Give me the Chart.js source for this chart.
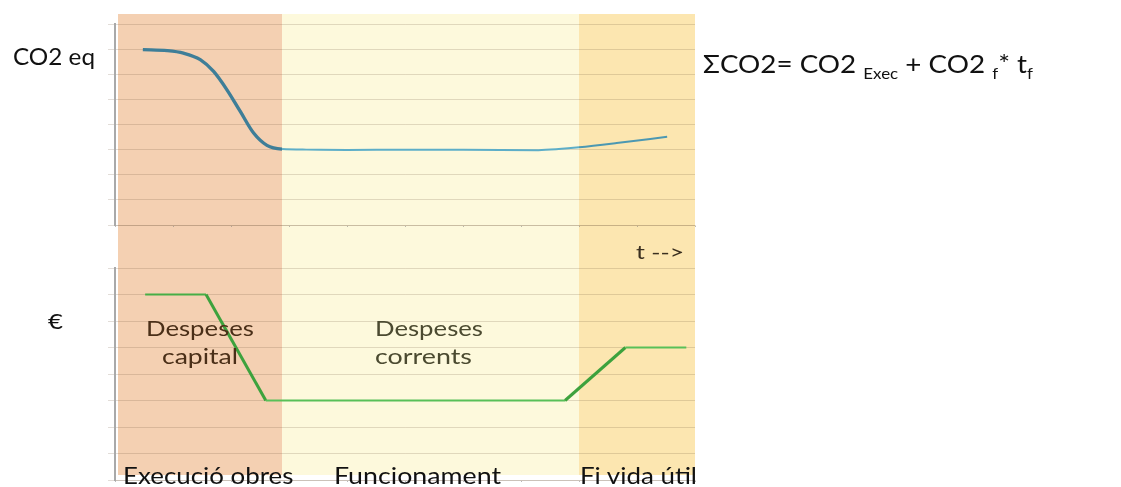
<!DOCTYPE html>
<html>
<head>
<meta charset="utf-8">
<script src="https://cdn.jsdelivr.net/npm/chart.js@4"></script>
<style>
  html, body { margin: 0; padding: 0; background: #fff; }
  body { width: 1121px; height: 487px; position: relative; overflow: hidden; }
  canvas { position: absolute; left: 0; }
  #co2Chart { top: 0; }
  #costChart { top: 247px; }
  .lbl { position: absolute; white-space: nowrap; font-family: Lato, 'Open Sans', sans-serif; line-height: 1.2; transform-origin: 0 0; z-index: 2; }
  .lbl .bl { display: inline-block; width: 0; height: 0; }
  .lbl .sub { font-size: 0.61em; vertical-align: -6px; }
</style>
</head>
<body>
<canvas id="co2Chart" width="720" height="247"></canvas>
<canvas id="costChart" width="720" height="240"></canvas>
<script>
// --- Dades ---
// fases (límits en unitats de temps) i colors de fons
const phaseNames = ['Execució obres', 'Funcionament', 'Fi vida útil'];
const phaseEdges = [0.045, 2.885, 8.0, 10];
const phaseColors = ['#F4D0B2', '#FDF9DC', '#FCE6B0'];

// corba CO2 eq (temps, valor)
const co2Time = [0.48, 0.9, 1.18, 1.47, 1.7, 1.93, 2.16, 2.39, 2.62, 2.88, 3.3, 4, 5, 6, 7.3, 7.65, 8.0, 8.65, 9.52];
const co2Values = [6.98, 6.94, 6.84, 6.58, 6.11, 5.38, 4.52, 3.66, 3.17, 3.02, 3.0, 2.99, 3.0, 3.0, 2.98, 3.02, 3.09, 3.26, 3.51];

// corba € (temps, valor)
const costTime = [0.52, 1.57, 2.6, 7.76, 8.8, 9.85];
const costValues = [7, 7, 3, 3, 5, 5];

const el = id => document.getElementById(id);

// --- Plugin: bandes de color de cada fase ---
const bandsPlugin = {
  id: 'bands',
  beforeDraw(chart, args, opts) {
    const { ctx, scales: { x } } = chart;
    ctx.save();
    phaseColors.forEach((c, i) => {
      const x0 = Math.round(x.getPixelForValue(phaseEdges[i]));
      const x1 = Math.round(x.getPixelForValue(phaseEdges[i + 1]));
      ctx.fillStyle = c;
      ctx.fillRect(x0, opts.top, x1 - x0, opts.bottom - opts.top);
    });
    ctx.restore();
  }
};

const gridColor = 'rgba(110,85,60,0.2)';

const makeOptions = (padding, bandTop, bandBottom) => ({
  responsive: false,
  animation: false,
  layout: { padding },
  plugins: {
    legend: { display: false },
    tooltip: { enabled: false },
    bands: { top: bandTop, bottom: bandBottom }
  },
  scales: {
    x: {
      type: 'linear', min: 0, max: 10,
      ticks: { display: false, stepSize: 1 },
      grid: { drawOnChartArea: false, tickLength: 2, color: 'rgba(120,120,120,0.5)' },
      border: { color: gridColor, width: 1 },
      afterFit: s => { s.height = 3; }
    },
    y: {
      min: 0, max: 8,
      ticks: { display: false, stepSize: 1 },
      grid: { color: gridColor, tickLength: 7 },
      border: { color: '#a9a9a9', width: 2 },
      afterFit: s => { s.width = 7; }
    }
  }
});

// --- Gràfic CO2 ---
new Chart(el('co2Chart'), {
  type: 'line',
  data: {
    datasets: [{
      data: co2Time.map((t, i) => ({ x: t, y: co2Values[i] })),
      cubicInterpolationMode: 'monotone',
      pointRadius: 0,
      borderColor: '#4F9DB8',
      borderWidth: 2,
      segment: {
        borderWidth: c => c.p0.parsed.x < 2.8 ? 3.4 : 2,
        borderColor: c => c.p0.parsed.x < 2.8 ? '#3E7E98' : (c.p0.parsed.x >= 8 ? '#4C98B2' : '#5DAEC8')
      }
    }]
  },
  options: makeOptions({ left: 108, right: 25, top: 24, bottom: 19 }, 14, 248),
  plugins: [bandsPlugin]
});

// --- Gràfic € ---
new Chart(el('costChart'), {
  type: 'line',
  data: {
    datasets: [{
      data: costTime.map((t, i) => ({ x: t, y: costValues[i] })),
      tension: 0,
      pointRadius: 0,
      borderColor: '#4DB44D',
      borderWidth: 2,
      segment: {
        borderWidth: c => c.p0.parsed.y !== c.p1.parsed.y ? 3 : 2.2,
        borderColor: c => c.p0.parsed.y !== c.p1.parsed.y ? '#3DA23D' : (c.p0.parsed.y > 6 ? '#46AE46' : '#58C058')
      }
    }]
  },
  options: makeOptions({ left: 108, right: 25, top: 21, bottom: 4 }, 0, 228),
  plugins: [bandsPlugin]
});

// --- Textos ---
// col·loca un text entre left i right amb la línia base a "baseline"
const addText = (html, left, right, baseline, cap, color) => {
  const d = document.createElement('div');
  d.className = 'lbl';
  d.style.fontSize = (cap / 0.7165) + 'px';
  d.style.color = color;
  d.style.left = left + 'px';
  d.style.top = '0px';
  d.innerHTML = html + '<span class="bl"></span>';
  document.body.appendChild(d);
  const r = d.getBoundingClientRect();
  const b = d.querySelector('.bl').getBoundingClientRect().top;
  d.style.top = (baseline - (b - r.top)) + 'px';
  d.style.transform = `scaleX(${(right - left) / r.width})`;
};

addText('CO2 eq', 13, 95, 65, 16.5, '#111');
addText('€', 48, 63, 329, 15, '#111');
addText('ΣCO2= CO2 <span class="sub">Exec</span> + CO2 <span class="sub">f</span>* t<span class="sub">f</span>', 703, 1033, 73.3, 18, '#111');
addText('t -->', 636, 684, 259, 13.5, '#3b3020');
addText('Despeses', 146, 254, 335.7, 14.5, '#4a2f18');
addText('capital', 162, 238, 364, 14.5, '#4a2f18');
addText('Despeses', 375, 483, 335.7, 14.5, '#4b4a30');
addText('corrents', 375, 472, 364, 14.5, '#4b4a30');
addText(phaseNames[0], 122.5, 293, 484.3, 16, '#111');
addText(phaseNames[1], 334, 501, 484.3, 16, '#111');
addText(phaseNames[2], 580, 697, 484.3, 16, '#111');
</script>
</body>
</html>
